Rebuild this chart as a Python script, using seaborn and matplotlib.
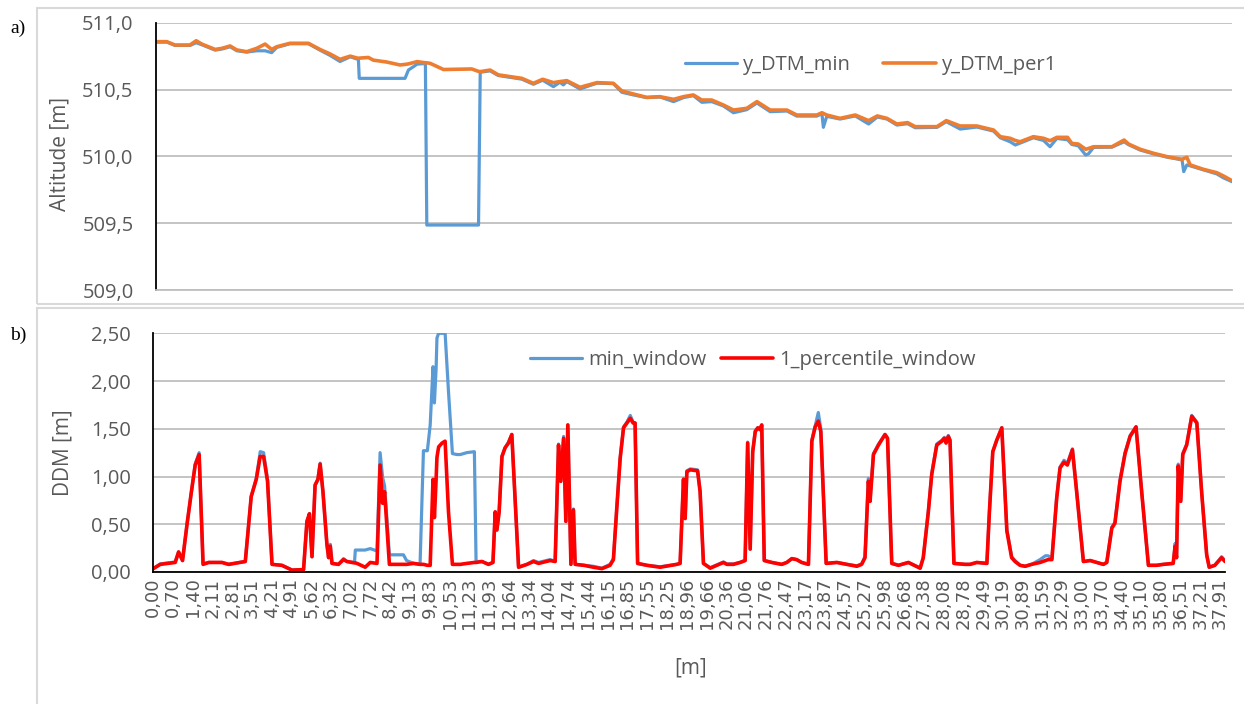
import matplotlib
matplotlib.use("Agg")
import pandas as pd
import matplotlib.pyplot as plt
from matplotlib.patches import Rectangle
from matplotlib.ticker import FuncFormatter
import seaborn as sns

# ---------------------------------------------------------------------------
# a) altitude profiles [m] along the transect
# ---------------------------------------------------------------------------
dist_a = [0.00, 0.39, 0.68, 1.21, 1.43, 1.63, 2.10, 2.34, 2.63, 2.87,
          3.22, 3.57, 3.87, 4.10, 4.28, 4.75, 5.40, 5.81, 6.17, 6.52,
          6.88, 7.17, 7.20, 7.52, 7.70, 8.17, 8.64, 8.82, 8.94, 9.18,
          9.24, 9.54, 9.59, 9.71, 10.18, 11.18, 11.42, 11.48, 11.83, 12.12,
          12.95, 13.36, 13.69, 14.07, 14.30, 14.42, 14.54, 15.01, 15.61, 16.19,
          16.49, 16.90, 17.37, 17.84, 18.32, 18.67, 19.02, 19.32, 19.67, 20.08,
          20.44, 20.91, 21.27, 21.74, 22.33, 22.68, 23.39, 23.57, 23.62, 23.74,
          24.21, 24.75, 25.22, 25.53, 25.87, 26.22, 26.60, 26.87, 27.64, 27.97,
          28.46, 29.05, 29.64, 29.88, 30.23, 30.41, 30.58, 31.05, 31.41, 31.64,
          31.88, 32.26, 32.41, 32.64, 32.90, 33.00, 33.18, 33.83, 34.26, 34.42,
          34.83, 35.30, 35.78, 36.31, 36.37, 36.48, 36.60, 37.07, 37.54, 37.78, 38.08]

y_dtm_per1 = [510.858, 510.858, 510.833, 510.833, 510.865, 510.840, 510.800, 510.808, 510.826, 510.796,
              510.783, 510.808, 510.840, 510.800, 510.820, 510.846, 510.846, 510.800, 510.766, 510.726,
              510.750, 510.733, 510.735, 510.740, 510.720, 510.706, 510.684, 510.688, 510.692, 510.705,
              510.709, 510.700, 510.700, 510.696, 510.650, 510.654, 510.636, 510.634, 510.646, 510.610,
              510.584, 510.547, 510.577, 510.552, 510.560, 510.563, 510.567, 510.517, 510.552, 510.547,
              510.490, 510.467, 510.442, 510.447, 510.427, 510.447, 510.460, 510.422, 510.422, 510.385,
              510.347, 510.360, 510.410, 510.347, 510.347, 510.310, 510.310, 510.327, 510.322, 510.310,
              510.285, 510.310, 510.268, 510.303, 510.285, 510.243, 510.253, 510.223, 510.223, 510.268,
              510.228, 510.228, 510.198, 510.148, 510.136, 510.120, 510.110, 510.148, 510.136, 510.118,
              510.143, 510.143, 510.098, 510.093, 510.054, 510.060, 510.073, 510.073, 510.123, 510.093,
              510.054, 510.024, 509.999, 509.979, 509.985, 509.994, 509.937, 509.904, 509.879, 509.854, 509.819]

y_dtm_min = [510.855, 510.855, 510.830, 510.830, 510.850, 510.835, 510.795, 510.803, 510.820, 510.790,
             510.780, 510.790, 510.790, 510.776, 510.815, 510.843, 510.843, 510.795, 510.755, 510.710,
             510.745, 510.725, 510.584, 510.584, 510.584, 510.584, 510.584, 510.584, 510.646, 510.680,
             510.690, 510.695, 509.488, 509.488, 509.488, 509.488, 509.488, 510.630, 510.640, 510.605,
             510.578, 510.540, 510.570, 510.522, 510.555, 510.535, 510.560, 510.505, 510.548, 510.545,
             510.480, 510.460, 510.440, 510.445, 510.410, 510.440, 510.455, 510.405, 510.410, 510.378,
             510.327, 510.350, 510.400, 510.335, 510.340, 510.302, 510.302, 510.320, 510.218, 510.300,
             510.280, 510.303, 510.243, 510.295, 510.280, 510.235, 510.245, 510.215, 510.218, 510.260,
             510.205, 510.220, 510.190, 510.140, 510.110, 510.086, 510.100, 510.140, 510.120, 510.073,
             510.135, 510.125, 510.090, 510.080, 510.011, 510.020, 510.068, 510.070, 510.110, 510.088,
             510.048, 510.020, 509.995, 509.975, 509.887, 509.937, 509.930, 509.900, 509.870, 509.840, 509.812]

# ---------------------------------------------------------------------------
# b) DDM [m] along the same transect
# ---------------------------------------------------------------------------
dist_b = [0.00, 0.25, 0.78, 0.90, 1.04, 1.20, 1.35, 1.49, 1.63, 1.77,
          1.97, 2.44, 2.68, 3.27, 3.48, 3.66, 3.80, 3.92, 4.06, 4.22,
          4.57, 4.93, 5.34, 5.46, 5.55, 5.64, 5.75, 5.85, 5.93, 6.03,
          6.17, 6.23, 6.29, 6.35, 6.58, 6.76, 6.88, 7.15, 7.18, 7.24,
          7.53, 7.71, 7.95, 8.06, 8.15, 8.22, 8.39, 8.89, 9.00, 9.25,
          9.48, 9.60, 9.74, 9.84, 9.94, 9.99, 10.05, 10.08, 10.14, 10.26,
          10.37, 10.49, 10.63, 10.79, 10.91, 11.14, 11.41, 11.47, 11.68, 11.91,
          12.07, 12.15, 12.21, 12.29, 12.39, 12.50, 12.62, 12.74, 12.98, 13.28,
          13.51, 13.69, 14.10, 14.28, 14.40, 14.48, 14.58, 14.66, 14.73, 14.84,
          14.93, 14.99, 15.30, 15.64, 15.94, 16.23, 16.35, 16.47, 16.59, 16.71,
          16.83, 16.95, 17.05, 17.12, 17.21, 17.54, 18.01, 18.60, 18.72, 18.84,
          18.90, 18.96, 19.08, 19.34, 19.43, 19.55, 19.79, 20.03, 20.26, 20.38,
          20.62, 20.85, 21.03, 21.12, 21.21, 21.30, 21.39, 21.48, 21.56, 21.62,
          21.71, 21.98, 22.33, 22.51, 22.69, 22.86, 23.04, 23.28, 23.40, 23.52,
          23.63, 23.72, 23.91, 24.29, 24.64, 25.00, 25.17, 25.29, 25.41, 25.47,
          25.59, 25.77, 26.00, 26.09, 26.24, 26.48, 26.83, 27.25, 27.36, 27.54,
          27.66, 27.84, 28.02, 28.11, 28.17, 28.25, 28.31, 28.45, 28.85, 29.02,
          29.26, 29.62, 29.71, 29.83, 29.97, 30.15, 30.33, 30.50, 30.62, 30.80,
          30.98, 31.21, 31.51, 31.70, 31.80, 31.93, 32.10, 32.22, 32.36, 32.48,
          32.66, 32.81, 33.05, 33.29, 33.52, 33.76, 33.88, 34.06, 34.17, 34.35,
          34.53, 34.71, 34.92, 35.12, 35.36, 35.65, 35.89, 36.24, 36.31, 36.36,
          36.42, 36.51, 36.58, 36.72, 36.90, 37.08, 37.25, 37.43, 37.52, 37.72, 37.96, 38.08]

percentile_window = [0.035, 0.08, 0.10, 0.21, 0.12, 0.50, 0.83, 1.12, 1.23, 0.08,
                     0.10, 0.10, 0.08, 0.11, 0.79, 0.97, 1.21, 1.21, 0.95, 0.08,
                     0.07, 0.02, 0.025, 0.53, 0.61, 0.16, 0.91, 0.97, 1.13, 0.84,
                     0.29, 0.15, 0.27, 0.09, 0.08, 0.13, 0.11, 0.095, 0.095, 0.09,
                     0.05, 0.10, 0.09, 1.12, 0.72, 0.84, 0.08, 0.08, 0.08, 0.09,
                     0.08, 0.08, 0.07, 0.07, 0.97, 0.57, 0.97, 1.20, 1.31, 1.35,
                     1.37, 0.63, 0.08, 0.08, 0.08, 0.09, 0.10, 0.10, 0.11, 0.08,
                     0.10, 0.63, 0.44, 0.63, 1.21, 1.30, 1.35, 1.44, 0.05, 0.08,
                     0.11, 0.09, 0.12, 0.11, 1.33, 0.95, 1.40, 0.53, 1.54, 0.08,
                     0.65, 0.08, 0.07, 0.05, 0.035, 0.07, 0.13, 0.67, 1.19, 1.51,
                     1.56, 1.61, 1.56, 1.56, 0.09, 0.07, 0.05, 0.08, 0.09, 0.97,
                     0.56, 1.05, 1.07, 1.06, 0.84, 0.09, 0.04, 0.07, 0.10, 0.08,
                     0.08, 0.10, 0.12, 1.35, 0.24, 1.26, 1.47, 1.51, 1.49, 1.54,
                     0.12, 0.10, 0.08, 0.10, 0.14, 0.13, 0.10, 0.08, 1.37, 1.52,
                     1.58, 1.47, 0.09, 0.10, 0.08, 0.06, 0.08, 0.15, 0.95, 0.74,
                     1.23, 1.33, 1.44, 1.40, 0.09, 0.07, 0.10, 0.04, 0.15, 0.63,
                     1.02, 1.33, 1.37, 1.40, 1.35, 1.42, 1.38, 0.09, 0.08, 0.08,
                     0.10, 0.09, 0.63, 1.26, 1.38, 1.51, 0.43, 0.15, 0.11, 0.07,
                     0.06, 0.08, 0.10, 0.12, 0.13, 0.13, 0.77, 1.09, 1.15, 1.12,
                     1.28, 0.84, 0.11, 0.12, 0.10, 0.08, 0.10, 0.46, 0.51, 0.95,
                     1.24, 1.42, 1.52, 0.84, 0.07, 0.07, 0.08, 0.09, 0.27, 0.15,
                     1.11, 0.74, 1.23, 1.33, 1.63, 1.56, 0.84, 0.18, 0.05, 0.07, 0.15, 0.11]

min_window = [0.035, 0.085, 0.105, 0.21, 0.12, 0.50, 0.83, 1.13, 1.25, 0.085,
              0.10, 0.10, 0.08, 0.11, 0.79, 0.98, 1.26, 1.25, 0.97, 0.08,
              0.07, 0.02, 0.025, 0.53, 0.61, 0.16, 0.91, 0.97, 1.14, 0.84,
              0.29, 0.15, 0.29, 0.09, 0.08, 0.14, 0.11, 0.10, 0.23, 0.23,
              0.23, 0.245, 0.22, 1.25, 0.99, 0.90, 0.18, 0.18, 0.12, 0.09,
              0.08, 1.27, 1.27, 1.54, 2.15, 1.77, 2.13, 2.45, 2.50, 2.50,
              2.50, 1.89, 1.24, 1.23, 1.23, 1.25, 1.26, 0.11, 0.11, 0.08,
              0.10, 0.63, 0.44, 0.63, 1.21, 1.30, 1.36, 1.44, 0.05, 0.08,
              0.12, 0.10, 0.13, 0.11, 1.34, 0.95, 1.42, 0.53, 1.54, 0.08,
              0.66, 0.08, 0.07, 0.06, 0.04, 0.08, 0.14, 0.67, 1.19, 1.52,
              1.57, 1.64, 1.57, 1.56, 0.09, 0.07, 0.055, 0.08, 0.09, 0.98,
              0.56, 1.06, 1.08, 1.07, 0.85, 0.09, 0.045, 0.075, 0.105, 0.085,
              0.085, 0.10, 0.12, 1.36, 0.24, 1.26, 1.48, 1.51, 1.50, 1.54,
              0.12, 0.10, 0.08, 0.10, 0.14, 0.13, 0.10, 0.08, 1.38, 1.53,
              1.67, 1.50, 0.09, 0.10, 0.08, 0.065, 0.085, 0.16, 0.98, 0.75,
              1.24, 1.34, 1.44, 1.40, 0.09, 0.07, 0.10, 0.04, 0.15, 0.64,
              1.03, 1.34, 1.38, 1.41, 1.36, 1.43, 1.38, 0.09, 0.08, 0.08,
              0.10, 0.09, 0.63, 1.26, 1.38, 1.51, 0.44, 0.16, 0.12, 0.07,
              0.06, 0.08, 0.13, 0.17, 0.17, 0.14, 0.78, 1.10, 1.17, 1.14,
              1.29, 0.85, 0.11, 0.12, 0.10, 0.08, 0.10, 0.47, 0.52, 0.96,
              1.25, 1.43, 1.52, 0.85, 0.07, 0.07, 0.08, 0.09, 0.30, 0.15,
              1.13, 0.75, 1.24, 1.34, 1.64, 1.57, 0.85, 0.18, 0.05, 0.07, 0.16, 0.12]

# category labels shown under panel b
x_tick_labels = ['0,00', '0,70', '1,40', '2,11', '2,81', '3,51', '4,21', '4,91', '5,62', '6,32',
                 '7,02', '7,72', '8,42', '9,13', '9,83', '10,53', '11,23', '11,93', '12,64', '13,34',
                 '14,04', '14,74', '15,44', '16,15', '16,85', '17,55', '18,25', '18,96', '19,66', '20,36',
                 '21,06', '21,76', '22,47', '23,17', '23,87', '24,57', '25,27', '25,98', '26,68', '27,38',
                 '28,08', '28,78', '29,49', '30,19', '30,89', '31,59', '32,29', '33,00', '33,70', '34,40',
                 '35,10', '35,80', '36,51', '37,21', '37,91']

TEXT_GREY = '#595959'
GRID_GREY = '#bfbfbf'


def comma_formatter(decimals):
    """Tick formatter with a decimal comma."""
    return FuncFormatter(lambda v, pos: f"{v:.{decimals}f}".replace('.', ','))


def style_axes(ax, ylim, step, decimals, bottom_color):
    ax.set_xlim(dist_b[0], dist_b[-1])
    ax.set_ylim(*ylim)
    yt = [ylim[0] + i * step for i in range(int(round((ylim[1] - ylim[0]) / step)) + 1)]
    ax.set_yticks(yt)
    ax.yaxis.set_major_formatter(comma_formatter(decimals))
    ax.grid(axis='y', color=GRID_GREY, linewidth=1.3)
    ax.grid(axis='x', visible=False)
    ax.set_axisbelow(True)
    for side in ['top', 'right']:
        ax.spines[side].set_visible(False)
    ax.spines['left'].set_color('black')
    ax.spines['left'].set_linewidth(1.3)
    ax.spines['bottom'].set_color(bottom_color)
    ax.spines['bottom'].set_linewidth(1.3)
    ax.tick_params(axis='y', length=0, pad=16, labelsize=14.5, labelcolor=TEXT_GREY)
    ax.set_xlabel('')
    ax.set_ylabel('')


def plot_altitude(fig):
    ax = fig.add_axes([0.1252, 0.5876, 0.8652, 0.3802])
    df = pd.DataFrame({'dist': dist_a, 'y_DTM_min': y_dtm_min, 'y_DTM_per1': y_dtm_per1})
    sns.lineplot(data=df, x='dist', y='y_DTM_min', ax=ax, color='#5B9BD5', linewidth=2.3, label='y_DTM_min')
    sns.lineplot(data=df, x='dist', y='y_DTM_per1', ax=ax, color='#ED7D31', linewidth=2.6, label='y_DTM_per1')
    style_axes(ax, (509.0, 511.0), 0.5, 1, GRID_GREY)
    ax.set_xticks([])
    ax.legend(loc='center', bbox_to_anchor=(0.700, 0.9077), bbox_transform=fig.transFigure,
              ncol=2, frameon=False, fontsize=14.5, labelcolor=TEXT_GREY,
              handlelength=2.6, handletextpad=0.3, columnspacing=1.6)
    return ax


def plot_ddm(fig):
    ax = fig.add_axes([0.1232, 0.1875, 0.8615, 0.3391])
    df = pd.DataFrame({'dist': dist_b, 'min_window': min_window, '1_percentile_window': percentile_window})
    sns.lineplot(data=df, x='dist', y='min_window', ax=ax, color='#5B9BD5', linewidth=2.3, label='min_window')
    sns.lineplot(data=df, x='dist', y='1_percentile_window', ax=ax, color='#FF0000', linewidth=2.6,
                 label='1_percentile_window')
    style_axes(ax, (0.0, 2.5), 0.5, 2, 'black')
    ax.set_xticks([float(s.replace(',', '.')) for s in x_tick_labels])
    ax.set_xticklabels(x_tick_labels, rotation=90)
    ax.tick_params(axis='x', length=0, pad=4, labelsize=13, labelcolor=TEXT_GREY)
    for lab in ax.get_xticklabels():
        lab.set_family(['DejaVu Sans'])
    ax.legend(loc='center', bbox_to_anchor=(0.605, 0.4886), bbox_transform=fig.transFigure,
              ncol=2, frameon=False, fontsize=14.5, labelcolor=TEXT_GREY,
              handlelength=2.6, handletextpad=0.3, columnspacing=0.7)
    return ax


def main():
    sns.set_theme(style="white")
    plt.rcParams['font.family'] = ['Open Sans', 'DejaVu Sans']

    fig = plt.figure(figsize=(12.44, 7.04), dpi=100)
    fig.patch.set_facecolor('white')

    # chart area frames (Excel-style)
    fig.patches.append(Rectangle((0.0301, 0.5682), 1.0, 0.4200, transform=fig.transFigure,
                                 fill=False, edgecolor='#d9d9d9', linewidth=1.5))
    fig.patches.append(Rectangle((0.0301, -0.05), 1.0, 0.6121, transform=fig.transFigure,
                                 fill=False, edgecolor='#d9d9d9', linewidth=1.5))

    plot_altitude(fig)
    plot_ddm(fig)

    # panel letters and axis titles
    fig.text(0.008, 0.960, 'a)', family='Liberation Serif', fontsize=14, color='black', va='center')
    fig.text(0.008, 0.523, 'b)', family='Liberation Serif', fontsize=14, color='black', va='center')
    fig.text(0.048, 0.781, 'Altitude [m]', rotation=90, fontsize=15, color=TEXT_GREY, ha='center', va='center')
    fig.text(0.051, 0.357, 'DDM [m]', rotation=90, fontsize=15, color=TEXT_GREY, ha='center', va='center')
    fig.text(0.555, 0.051, '[m]', fontsize=15, color=TEXT_GREY, ha='center', va='center')

    fig.savefig('out.png', dpi=100)
    plt.close(fig)


if __name__ == "__main__":
    main()
